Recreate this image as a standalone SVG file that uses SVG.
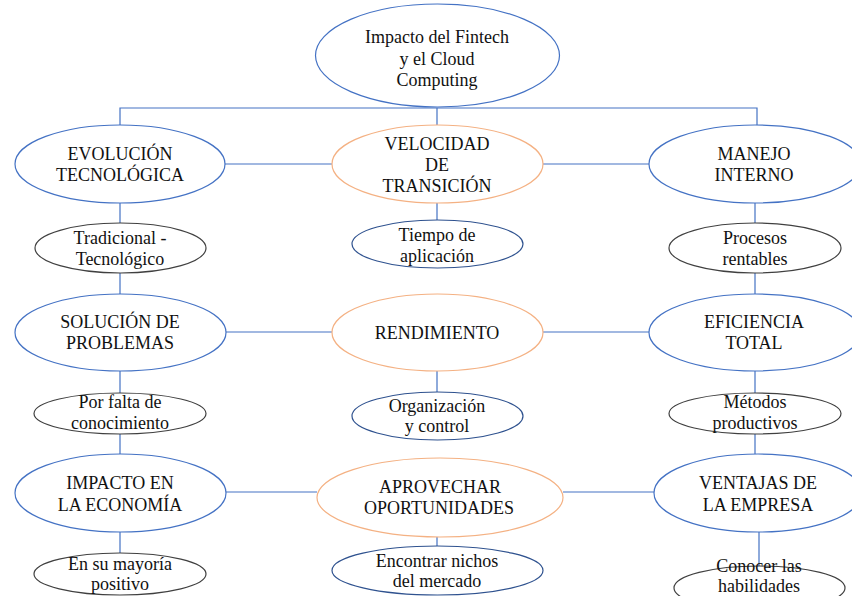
<svg xmlns="http://www.w3.org/2000/svg" width="852" height="596" viewBox="0 0 852 596">
<style>
.bg{fill:#ffffff}
.main{fill:#ffffff;stroke:#4472C4;stroke-width:1.2}
.org{fill:#ffffff;stroke:#F4B183;stroke-width:1.2}
.subg{fill:#ffffff;stroke:#404040;stroke-width:1.2}
.subb{fill:#ffffff;stroke:#2F528F;stroke-width:1.2}
.ln{fill:none;stroke:#4472C4;stroke-width:1.2}
text{font-family:"Liberation Serif","Times New Roman",serif;font-size:18px;fill:#111111;text-anchor:middle}
</style>
<rect class="bg" x="0" y="0" width="852" height="596"/>
<g id="connectors">
<path class="ln" d="M120 125 V108 H757 V125"/>
<path class="ln" d="M437 108 V125"/>
<path class="ln" d="M225 164 H332 M543 164 H649"/>
<path class="ln" d="M120 203 V223 M120 273 V294 M120 371 V393 M120 434 V454 M120 532 V553"/>
<path class="ln" d="M437 203 V220 M437 371 V392 M437 537 V546"/>
<path class="ln" d="M755 203 V223 M755 273 V294 M755 371 V393 M755 434 V454 M759 532 V566"/>
<path class="ln" d="M226 332 H332 M543 332 H649"/>
<path class="ln" d="M226 492 H317 M563 492 H654"/>
</g>
<g id="root">
<ellipse class="main" cx="437.5" cy="55.5" rx="122" ry="51.5"/>
<text x="437" y="43">Impacto del Fintech</text>
<text x="437" y="65">y el Cloud</text>
<text x="437" y="86">Computing</text>
</g>
<g id="evolucion">
<ellipse class="main" cx="120" cy="164" rx="105" ry="39"/>
<text x="120" y="160">EVOLUCIÓN</text>
<text x="120" y="181">TECNOLÓGICA</text>
</g>
<g id="velocidad">
<ellipse class="org" cx="437.5" cy="164" rx="105.5" ry="39"/>
<text x="437" y="150">VELOCIDAD</text>
<text x="437" y="171">DE</text>
<text x="437" y="192">TRANSICIÓN</text>
</g>
<g id="manejo">
<ellipse class="main" cx="755" cy="164" rx="106" ry="39"/>
<text x="754" y="160">MANEJO</text>
<text x="754" y="181">INTERNO</text>
</g>
<g id="tradicional">
<ellipse class="subg" cx="120.5" cy="248" rx="85.5" ry="25"/>
<text x="120" y="244">Tradicional -</text>
<text x="120" y="265">Tecnológico</text>
</g>
<g id="tiempo">
<ellipse class="subb" cx="437.5" cy="244" rx="85.5" ry="24"/>
<text x="437" y="241">Tiempo de</text>
<text x="437" y="262">aplicación</text>
</g>
<g id="procesos">
<ellipse class="subg" cx="755" cy="248" rx="86" ry="25"/>
<text x="755" y="244">Procesos</text>
<text x="755" y="265">rentables</text>
</g>
<g id="solucion">
<ellipse class="main" cx="120.5" cy="332.5" rx="105.5" ry="38.5"/>
<text x="120" y="328">SOLUCIÓN DE</text>
<text x="120" y="349">PROBLEMAS</text>
</g>
<g id="rendimiento">
<ellipse class="org" cx="437.5" cy="332.5" rx="105.5" ry="38.5"/>
<text x="437" y="339">RENDIMIENTO</text>
</g>
<g id="eficiencia">
<ellipse class="main" cx="755" cy="332.5" rx="106" ry="38.5"/>
<text x="754" y="328">EFICIENCIA</text>
<text x="754" y="349">TOTAL</text>
</g>
<g id="porfalta">
<ellipse class="subg" cx="120" cy="413.5" rx="86" ry="20.5"/>
<text x="120" y="408">Por falta de</text>
<text x="120" y="429">conocimiento</text>
</g>
<g id="organizacion">
<ellipse class="subb" cx="437.5" cy="416" rx="85.5" ry="24"/>
<text x="437" y="412">Organización</text>
<text x="437" y="432">y control</text>
</g>
<g id="metodos">
<ellipse class="subg" cx="755" cy="413.5" rx="86" ry="20.5"/>
<text x="755" y="408">Métodos</text>
<text x="755" y="429">productivos</text>
</g>
<g id="impacto">
<ellipse class="main" cx="120.5" cy="493" rx="105.5" ry="39"/>
<text x="120" y="489">IMPACTO EN</text>
<text x="120" y="511">LA ECONOMÍA</text>
</g>
<g id="aprovechar">
<ellipse class="org" cx="440" cy="497.5" rx="123" ry="39.5"/>
<text x="440" y="493">APROVECHAR</text>
<text x="439" y="514">OPORTUNIDADES</text>
</g>
<g id="ventajas">
<ellipse class="main" cx="758" cy="493" rx="104" ry="39"/>
<text x="758" y="489">VENTAJAS DE</text>
<text x="758" y="511">LA EMPRESA</text>
</g>
<g id="mayoria">
<ellipse class="subg" cx="120" cy="574" rx="86" ry="21"/>
<text x="120" y="570">En su mayoría</text>
<text x="120" y="590">positivo</text>
</g>
<g id="encontrar">
<ellipse class="subb" cx="437.5" cy="570.5" rx="105.5" ry="24.5"/>
<text x="437" y="567">Encontrar nichos</text>
<text x="437" y="587">del mercado</text>
</g>
<g id="conocer">
<ellipse class="subg" cx="759.5" cy="588" rx="85.5" ry="22"/>
<text x="759" y="572">Conocer las</text>
<text x="759" y="592">habilidades</text>
</g>
</svg>
